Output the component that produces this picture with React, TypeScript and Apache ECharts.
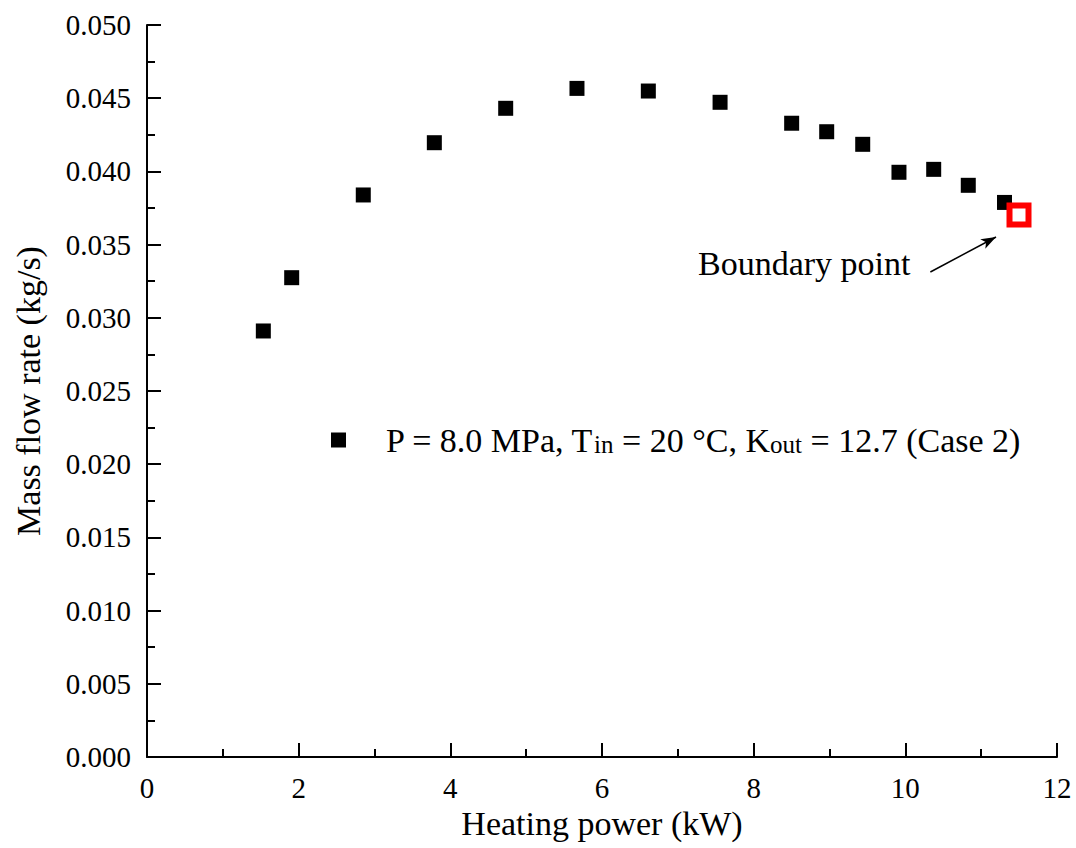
import React, { useEffect, useRef } from "react";
import * as echarts from "echarts";

const powerKW = [1.534, 1.908, 2.852, 3.789, 4.730, 5.670, 6.611, 7.557, 8.501, 8.963, 9.438, 9.916, 10.374, 10.830, 11.308];
const massFlow = [0.0291, 0.03274, 0.03839, 0.04196, 0.04431, 0.04567, 0.04549, 0.04472, 0.04329, 0.04271, 0.04185, 0.03994, 0.04014, 0.03905, 0.03788];
const boundaryPoint = [11.499, 0.03702];
const arrowStart = [10.33, 0.03313];
const arrowEnd = [11.196, 0.03552];
const xTicks = [0, 12, 2];
const yTicks = [0, 0.05, 0.005];
const FONT = "Liberation Serif";

export default function App() {
  const ref = useRef<HTMLDivElement>(null);
  useEffect(() => {
    if (!ref.current) return;
    const chart = echarts.init(ref.current, null, { renderer: "svg" });
    const labelRich = { t: { fontFamily: FONT, fontSize: 29, color: "#000" } };
    const axisCommon = {
      axisLine: { show: true, onZero: false, lineStyle: { color: "#000", width: 2 } },
      axisTick: { show: true, inside: true, length: 14, lineStyle: { color: "#000", width: 2 } },
      minorTick: { show: true, splitNumber: 2, length: 8, lineStyle: { color: "#000", width: 2 } },
      splitLine: { show: false },
      nameLocation: "middle" as const,
      nameTextStyle: { fontFamily: FONT, fontSize: 34, color: "#000" },
    };
    chart.setOption({
      animation: false,
      backgroundColor: "#fff",
      textStyle: { fontFamily: FONT },
      grid: { left: 147, top: 25, width: 910, height: 732, containLabel: false },
      xAxis: {
        type: "value",
        min: xTicks[0],
        max: xTicks[1],
        interval: xTicks[2],
        name: "Heating power (kW)",
        nameGap: 44,
        ...axisCommon,
        axisLabel: {
          fontFamily: FONT,
          fontSize: 29,
          color: "#000",
          margin: 16,
          formatter: (v: number) => "{t|" + String(v) + "}",
          rich: labelRich,
        },
      },
      yAxis: {
        type: "value",
        min: yTicks[0],
        max: yTicks[1],
        interval: yTicks[2],
        name: "Mass flow rate (kg/s)",
        nameGap: 102,
        ...axisCommon,
        axisLabel: {
          fontFamily: FONT,
          fontSize: 29,
          color: "#000",
          margin: 16,
          formatter: (v: number) => "{t|" + v.toFixed(3) + "}",
          rich: labelRich,
        },
      },
      legend: {
        left: 326,
        top: 418,
        itemWidth: 15,
        itemHeight: 15,
        icon: "rect",
        data: ["case2"],
        formatter: () =>
          "{sp|}{n|P = 8.0 MPa, T}{s|in}{n| = 20 °C, K}{s|out}{n| = 12.7 (Case 2)}",
        textStyle: {
          fontFamily: FONT,
          color: "#000",
          rich: {
            sp: { width: 35 },
            n: { fontFamily: FONT, fontSize: 34, lineHeight: 34, color: "#000" },
            s: { fontFamily: FONT, fontSize: 25, lineHeight: 28, verticalAlign: "bottom", color: "#000" },
          },
        },
      },
      series: [
        {
          name: "case2",
          type: "scatter",
          symbol: "rect",
          symbolSize: 15,
          itemStyle: { color: "#000", opacity: 1 },
          data: powerKW.map((x, i) => [x, massFlow[i]]),
        },
        {
          name: "boundary",
          type: "scatter",
          symbol: "rect",
          symbolSize: 19,
          itemStyle: { color: "#fff", borderColor: "#ff0000", borderWidth: 6, opacity: 1 },
          data: [boundaryPoint],
          markLine: {
            silent: true,
            symbol: ["none", "arrow"],
            symbolSize: [8, 15],
            label: { show: false },
            lineStyle: { color: "#000", width: 1.5, type: "solid", opacity: 1 },
            data: [[{ coord: arrowStart }, { coord: arrowEnd }]],
          },
        },
      ],
      graphic: [
        {
          type: "text",
          left: 698,
          top: 246,
          style: { text: "Boundary point", fontFamily: FONT, fontSize: 34, fill: "#000" },
        },
      ],
    });
    return () => chart.dispose();
  }, []);
  return (
    <div
      ref={ref}
      style={{ position: "absolute", left: 0, top: 0, width: 1076, height: 848 }}
    />
  );
}
